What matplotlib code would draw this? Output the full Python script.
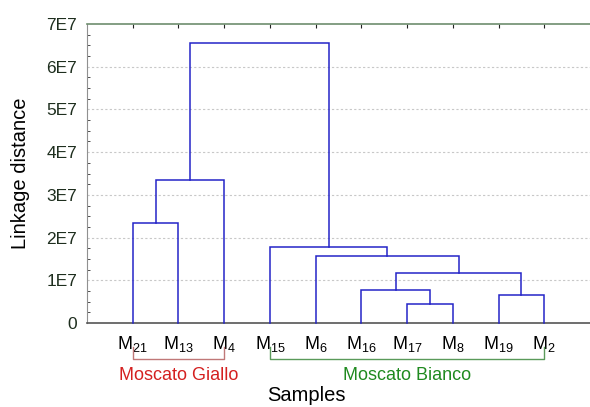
import matplotlib.pyplot as plt
from matplotlib.ticker import MultipleLocator

plt.rcParams["font.family"] = ["Liberation Sans", "DejaVu Sans"]
plt.rcParams["mathtext.fontset"] = "custom"
plt.rcParams["mathtext.rm"] = "Liberation Sans"
plt.rcParams["mathtext.it"] = "Liberation Sans"

# leaf order along the x axis and subscripts for the labels
leaves = ["21", "13", "4", "15", "6", "16", "17", "8", "19", "2"]

# merges: (left node, right node, linkage distance)
# nodes 0..9 are leaves, 10.. are the clusters created in this order
merges = [
    (6, 7, 0.45e7),    # M17 + M8         -> 10
    (8, 9, 0.65e7),    # M19 + M2         -> 11
    (5, 10, 0.77e7),   # M16 + 10         -> 12
    (12, 11, 1.18e7),  # 12 + 11          -> 13
    (4, 13, 1.57e7),   # M6 + 13          -> 14
    (3, 14, 1.79e7),   # M15 + 14         -> 15
    (0, 1, 2.33e7),    # M21 + M13        -> 16
    (16, 2, 3.35e7),   # 16 + M4          -> 17
    (17, 15, 6.56e7),  # 17 + 15          -> 18
]

groups = ["Moscato Giallo", "Moscato Bianco"]
group_span = [(0, 2), (3, 9)]
group_colors = ["#d42020", "#1f8a1f"]
bracket_colors = ["#c07878", "#5a9a5a"]

fig = plt.figure(figsize=(5.9, 4.07), dpi=100)
ax = fig.add_axes([0.1475, 0.2064, 0.8525, 0.7346])

xpos = {i: i + 1 for i in range(len(leaves))}
ypos = {i: 0.0 for i in range(len(leaves))}
for k, (a, b, h) in enumerate(merges):
    node = len(leaves) + k
    ax.plot([xpos[a], xpos[a], xpos[b], xpos[b]],
            [ypos[a], h, h, ypos[b]], color="#2424c8", lw=1.1,
            solid_joinstyle="miter", zorder=3, clip_on=False)
    xpos[node] = (xpos[a] + xpos[b]) / 2
    ypos[node] = h

ax.set_xlim(0, len(leaves) + 1)
ax.set_ylim(0, 7e7)

ax.set_yticks([i * 1e7 for i in range(8)])
ax.set_yticklabels(["0"] + [f"{i}E7" for i in range(1, 8)],
                   fontsize=12.5, color="#1e2e1e")
ax.yaxis.set_minor_locator(MultipleLocator(2.5e6))
ax.tick_params(axis="y", which="major", direction="in", length=0, pad=7)
ax.tick_params(axis="y", which="minor", direction="in", length=2,
               color="#333333")

ax.set_xticks(range(1, len(leaves) + 1))
ax.set_xticklabels([f"M$_{{\\mathrm{{{s}}}}}$" for s in leaves], fontsize=13)
ax.xaxis.set_ticks_position("both")
ax.tick_params(axis="x", which="major", direction="in", length=3,
               color="#222222", pad=8, bottom=False, top=True,
               labelbottom=True, labeltop=False)

for y in range(1, 7):
    ax.axhline(y * 1e7, color="#c8c8c8", lw=0.8, ls=(0, (2, 2)), zorder=1)

ax.spines["right"].set_visible(False)
ax.spines["top"].set_color("#6e8e6e")
ax.spines["top"].set_linewidth(1.2)
ax.spines["left"].set_color("#909090")
ax.spines["bottom"].set_color("#555555")
ax.spines["bottom"].set_linewidth(1.2)

ax.set_ylabel("Linkage distance", fontsize=14.5, labelpad=12)
fig.text(0.519, 0.004, "Samples", fontsize=14.5, ha="center", va="bottom")

# group brackets under the sample labels
trans = ax.get_xaxis_transform()
for name, (i0, i1), tc, bc in zip(groups, group_span, group_colors, bracket_colors):
    x0, x1 = i0 + 1, i1 + 1
    ax.plot([x0, x0, x1, x1], [-0.08, -0.12, -0.12, -0.08], color=bc, lw=1,
            transform=trans, clip_on=False)
    ax.text((x0 + x1) / 2, -0.175, name, transform=trans,
            ha="center", va="center", fontsize=13, color=tc)

fig.savefig("out.png", dpi=100)
